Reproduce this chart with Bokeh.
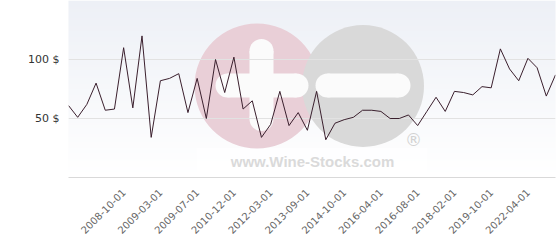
import numpy as np
from math import pi
from bokeh.plotting import figure
from bokeh.models import FixedTicker, BoxAnnotation, Range1d
from bokeh.core.properties import value
from bokeh.embed import file_html
from bokeh.resources import INLINE

# ---- data ----
prices = [61, 51, 62, 80, 57, 58, 110, 59, 120, 34,
          82, 84, 88, 55, 84, 50, 100, 72, 102, 58,
          65, 34, 45, 73, 44, 55, 40, 73, 32, 46,
          49, 51, 57, 57, 56, 50, 50, 53, 44, 56,
          68, 56, 73, 72, 70, 77, 76, 109, 92, 82,
          101, 93, 69, 87]
x_labels = ["2008-10-01", "2009-03-01", "2009-07-01", "2010-12-01",
            "2012-03-01", "2013-09-01", "2014-10-01", "2016-04-01",
            "2016-08-01", "2018-02-01", "2019-10-01", "2022-04-01"]
label_idx = [6, 10, 14, 18, 22, 26, 30, 34, 38, 42, 46, 50]
y_ticks = [50, 100]
y_tick_labels = ["50 $", "100 $"]

# ---- layout ----
W, H = 560, 240
L, R, T, B = 68, 5, 0, 63
YMAX = 150
NX = len(prices) - 1

def dx(px):
    return (px - L) * NX / (W - L - R)

def dy(py):
    return (H - B - py) * YMAX / (H - B - T)

p = figure(width=W, height=H, output_backend="svg", toolbar_location=None,
           x_range=Range1d(0, NX), y_range=Range1d(0, YMAX),
           min_border_left=L, min_border_right=R, min_border_top=T,
           min_border_bottom=B, outline_line_color=None,
           background_fill_color="white", border_fill_color="white")

# left grey panel
p.add_layout(BoxAnnotation(left=0, right=63, top=0, bottom=H,
                           left_units="canvas", right_units="canvas",
                           top_units="canvas", bottom_units="canvas",
                           fill_color="#e6e9ed", fill_alpha=1.0,
                           line_color=None, level="underlay"))

# background gradient
n = 64
img = np.zeros((n, 1), dtype=np.uint32)
v = img.view(dtype=np.uint8).reshape((n, 1, 4))
top_rgb = (237, 240, 246)
for i in range(n):
    t = i / (n - 1)
    for c in range(3):
        v[i, 0, c] = int(round(255 - (255 - top_rgb[c]) * t))
    v[i, 0, 3] = 255
p.image_rgba(image=[img], x=-1, y=0, dw=NX + 2, dh=YMAX, level="image")

# watermark logo
p.rect(x=[dx(311.5)], y=[dy(162.5)], width=231, height=30,
       width_units="screen", height_units="screen",
       fill_color="white", fill_alpha=0.6, line_color=None, level="image")
p.circle(x=[dx(256.5)], y=[dy(85.5)], radius=62.5, radius_units="screen",
         fill_color="#e9cfd7", line_color=None, level="image")
p.circle(x=[dx(362.5)], y=[dy(85.5)], radius=61, radius_units="screen",
         fill_color="#d9d9d9", line_color=None, level="image")
white = "#fbfbfb"
p.rect(x=[dx(261)], y=[dy(84.5)], width=24, height=68,
       width_units="screen", height_units="screen",
       fill_color=white, line_color=None, level="image")
p.circle(x=[dx(261), dx(261)], y=[dy(50.5), dy(118.5)], radius=12,
         radius_units="screen", fill_color=white, line_color=None, level="image")
p.rect(x=[dx(261.5)], y=[dy(85)], width=69, height=24,
       width_units="screen", height_units="screen",
       fill_color=white, line_color=None, level="image")
p.circle(x=[dx(227), dx(296)], y=[dy(85), dy(85)], radius=12,
         radius_units="screen", fill_color=white, line_color=None, level="image")
p.rect(x=[dx(362.5)], y=[dy(85)], width=71, height=24,
       width_units="screen", height_units="screen",
       fill_color=white, line_color=None, level="image")
p.circle(x=[dx(327), dx(398)], y=[dy(85), dy(85)], radius=12,
         radius_units="screen", fill_color=white, line_color=None, level="image")
p.text(x=[dx(312)], y=[dy(161)], text=["www.Wine-Stocks.com"],
       text_font=value("Liberation Sans"), text_font_style="bold",
       text_font_size="15px", text_color="#dadada",
       text_align="center", text_baseline="middle", level="image")
p.text(x=[dx(413)], y=[dy(139)], text=["®"],
       text_font=value("DejaVu Sans"), text_font_size="17px",
       text_color="#d2d2d2", text_align="center", text_baseline="middle",
       level="image")

# price line
p.line(x=list(range(len(prices))), y=prices, line_color="#3a1f2d", line_width=1)

# axes
ya = p.yaxis[0]
ya.ticker = FixedTicker(ticks=y_ticks)
ya.major_label_overrides = {t: s for t, s in zip(y_ticks, y_tick_labels)}
ya.axis_line_color = None
ya.major_tick_line_color = None
ya.minor_tick_line_color = None
ya.major_tick_out = 0
ya.major_tick_in = 0
ya.major_label_standoff = 9
ya.major_label_text_font = "DejaVu Sans"
ya.major_label_text_font_size = "11px"
ya.major_label_text_color = "#333333"

xa = p.xaxis[0]
xa.ticker = FixedTicker(ticks=label_idx)
xa.major_label_overrides = {i: s for i, s in zip(label_idx, x_labels)}
xa.major_label_orientation = pi / 4
xa.axis_line_color = "#d9d9d9"
xa.major_tick_line_color = None
xa.minor_tick_line_color = None
xa.major_tick_out = 0
xa.major_tick_in = 0
xa.major_label_standoff = 13
xa.major_label_text_font = "DejaVu Sans"
xa.major_label_text_font_size = "10px"
xa.major_label_text_color = "#666666"

p.xgrid.visible = False
p.ygrid.ticker = FixedTicker(ticks=y_ticks)
p.ygrid.grid_line_color = "#e2e2e2"

open("out.html", "w").write(file_html(p, INLINE))
